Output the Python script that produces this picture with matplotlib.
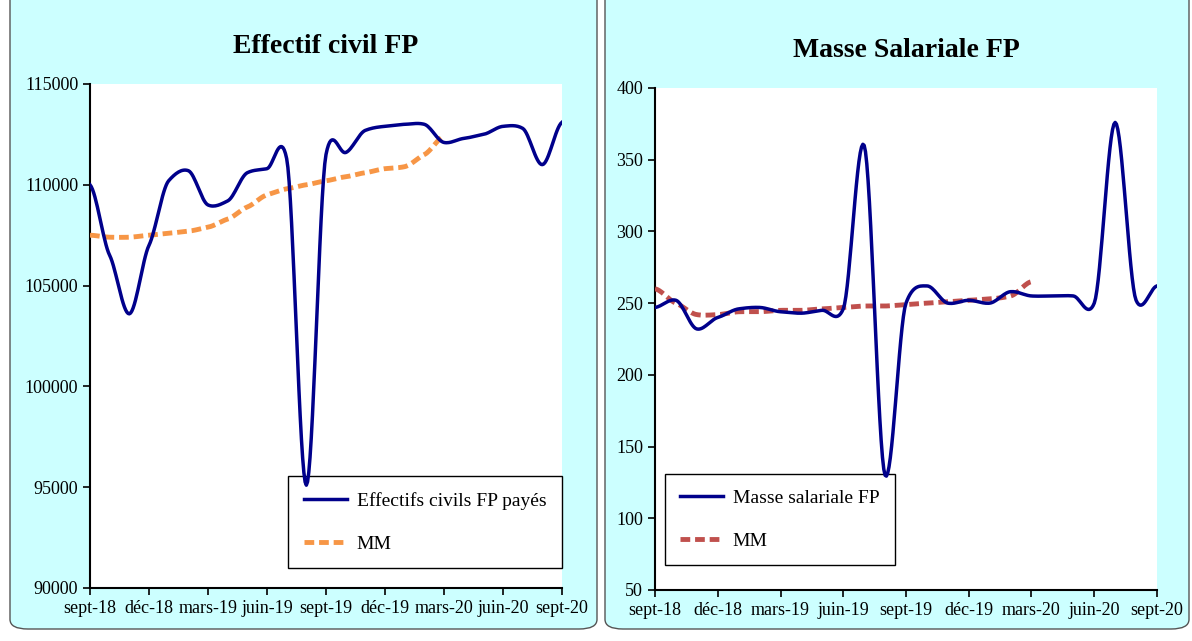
import numpy as np
import matplotlib
matplotlib.use("Agg")
import matplotlib.pyplot as plt
from matplotlib.patches import FancyBboxPatch

plt.rcParams["font.family"] = ["Liberation Serif", "DejaVu Serif"]

months = ["sept-18", "oct-18", "nov-18", "déc-18", "janv-19", "févr-19", "mars-19", "avr-19",
          "mai-19", "juin-19", "juil-19", "août-19", "sept-19", "oct-19", "nov-19", "déc-19",
          "janv-20", "févr-20", "mars-20", "avr-20", "mai-20", "juin-20", "juil-20", "août-20", "sept-20"]
effectif = [110000, 106500, 103600, 107000, 110200, 110700, 109000, 109200, 110600, 110800,
            111300, 95100, 111500, 111600, 112700, 112900, 113000, 113000, 112100, 112300,
            112500, 112900, 112800, 111000, 113100]
effectif_mm = [107500, 107400, 107400, 107500, 107600, 107700, 107900, 108300, 108900, 109500,
               109800, 110000, 110200, 110400, 110600, 110800, 110900, 111500, 112400]
masse = [247, 252, 232, 240, 246, 247, 244, 243, 245, 246, 360, 130, 250, 262, 250, 252,
         250, 258, 255, 255, 255, 250, 376, 252, 262]
masse_mm = [260, 250, 242, 242, 244, 244, 245, 245, 246, 247, 248, 248, 249, 250, 251, 252,
            253, 255, 265]


def smooth(y, n=16, k=0.6):
    """Cubic Hermite curve with damped Catmull-Rom tangents (Excel-like smoothing)."""
    y = np.asarray(y, dtype=float)
    p = np.concatenate([[y[0]], y, [y[-1]]])
    m = k * (p[2:] - p[:-2]) / 2.0
    xs, ys = [], []
    for i in range(len(y) - 1):
        t = np.linspace(0, 1, n, endpoint=False)
        h00 = 2 * t**3 - 3 * t**2 + 1
        h10 = t**3 - 2 * t**2 + t
        h01 = -2 * t**3 + 3 * t**2
        h11 = t**3 - t**2
        xs.append(i + t)
        ys.append(h00 * y[i] + h10 * m[i] + h01 * y[i + 1] + h11 * m[i + 1])
    xs.append([len(y) - 1])
    ys.append([y[-1]])
    return np.concatenate(xs), np.concatenate(ys)


fig = plt.figure(figsize=(11.92, 6.41), dpi=100)
W, H = 1192, 641
bg = "#ccffff"
for x0, x1 in [(10, 597), (605, 1189)]:
    fig.patches.append(FancyBboxPatch((x0 / W, 12 / H), (x1 - x0) / W, (H + 20 - 12) / H,
                                      boxstyle="round,pad=0,rounding_size=0.015",
                                      transform=fig.transFigure, facecolor=bg,
                                      edgecolor="#555555", lw=1, zorder=-5))


def panel(rect, title, series, mm, ylim, yticks, line_color, mm_color,
          labels, leg_loc, leg_anchor):
    x0, y0, x1, y1 = rect
    ax = fig.add_axes([x0 / W, 1 - y1 / H, (x1 - x0) / W, (y1 - y0) / H])
    sx, sy = smooth(series)
    ax.plot(sx, sy, color=line_color, lw=2.5, label=labels[0], zorder=6)
    mx, my = smooth(mm)
    ax.plot(mx, my, color=mm_color, lw=3.5, dashes=(2, 1), label=labels[1], zorder=5)
    ax.set_xlim(0, len(series) - 1)
    ax.set_ylim(*ylim)
    ax.set_yticks(yticks)
    ax.set_yticklabels([str(v) for v in yticks], fontsize=13)
    ax.set_xticks(range(0, len(months), 3))
    ax.set_xticklabels([months[i] for i in range(0, len(months), 3)], fontsize=13)
    ax.tick_params(direction="out", length=5, width=1.2)
    for s in ["top", "right"]:
        ax.spines[s].set_visible(False)
    for s in ["left", "bottom"]:
        ax.spines[s].set_linewidth(1.5)
    ax.set_title(title, fontsize=20, fontweight="bold", pad=22)
    leg = ax.legend(loc=leg_loc, bbox_to_anchor=leg_anchor, fontsize=14, frameon=True,
                    fancybox=False, edgecolor="black", handlelength=2.2, labelspacing=1.3,
                    borderpad=0.8, handletextpad=0.5, framealpha=1)
    leg.get_frame().set_linewidth(1.0)
    leg.set_zorder(2)
    return ax


panel((90, 84, 562, 588), "Effectif civil FP", effectif, effectif_mm,
      (90000, 115000), list(range(90000, 115001, 5000)),
      "#00008b", "#f79646",
      ["Effectifs civils FP payés", "MM"], "lower right", (1.02, 0.02))
panel((655, 88, 1157, 590), "Masse Salariale FP", masse, masse_mm,
      (50, 400), list(range(50, 401, 50)),
      "#00008b", "#c0504d",
      ["Masse salariale FP", "MM"], "lower left", (0.0, 0.03))

fig.savefig("out.png", dpi=100)
